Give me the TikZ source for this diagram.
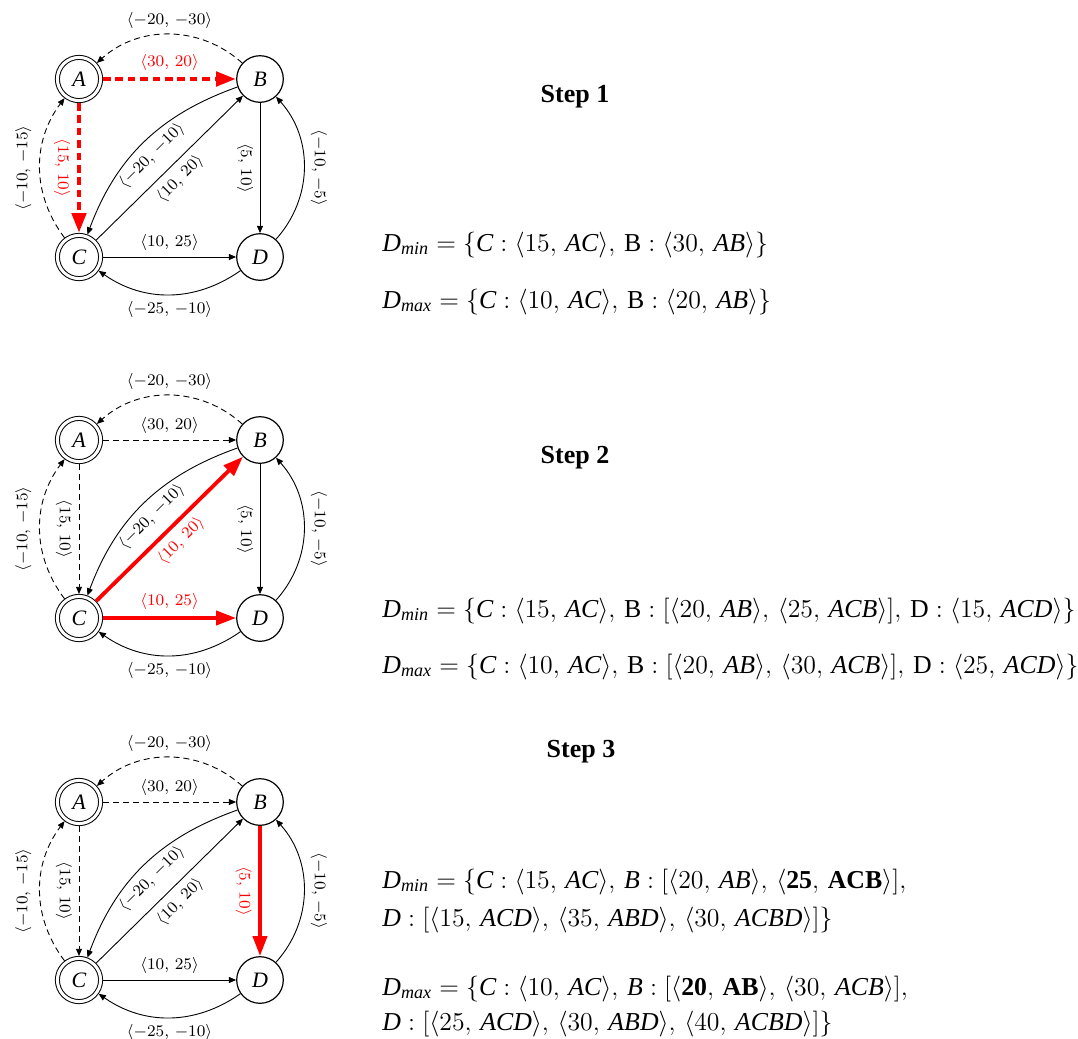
\documentclass[tikz,border=0pt]{standalone}
\usepackage{fix-cm}
\usepackage{amsmath}
\usepackage{fontspec}
\setmainfont{Liberation Serif}
\DeclareSymbolFont{operators}{TU}{\rmdefault}{m}{n}
\usetikzlibrary{arrows.meta}
\newcommand\I[1]{\textit{#1}}
\newcommand\Bf[1]{\textbf{#1}}
\newcommand\cs{,\,}
\tikzset{
  vtx/.style={circle,draw,line width=0.6pt,minimum size=23.3pt,inner sep=0pt,font=\fontsize{11}{13}\selectfont},
  vtxd/.style={circle,draw,line width=0.5pt,double=white,double distance=1.5pt,minimum size=21.6pt,inner sep=0pt,outer sep=1.2pt,font=\fontsize{11}{13}\selectfont},
  lab/.style={inner sep=3.2pt,font=\fontsize{8.1}{10}\selectfont},
  ed/.style={line width=0.45pt,-{Triangle[length=3.6pt,width=3pt]}},
  edd/.style={ed,dash pattern=on 3pt off 2pt},
  hl/.style={red,line width=1.9pt,-{Triangle[length=10pt,width=7pt]}},
  hld/.style={hl,line width=2.3pt,dash pattern=on 3.8pt off 2.4pt},
  eAB/.style={edd}, eAC/.style={edd}, eCB/.style={ed}, eCD/.style={ed}, eBD/.style={ed},
  lAB/.style={}, lAC/.style={}, lCB/.style={}, lCD/.style={}, lBD/.style={},
  eqn/.style={anchor=base west,inner sep=0pt,font=\fontsize{12.9}{16}\selectfont},
  ttl/.style={inner sep=0pt,font=\fontsize{13}{15}\selectfont\bfseries}
}
\newcommand\gr[1]{%
  \node[vtxd] (A#1) at (79,-79) {$\I{A}$};
  \node[vtx] (B#1) at (260,-79) {$\I{B}$};
  \node[vtxd] (C#1) at (79,-257) {$\I{C}$};
  \node[vtx] (D#1) at (260,-257) {$\I{D}$};
  \draw[edd] (B#1) to[bend right=42] node[lab,anchor=south,inner sep=2.8pt] {$\langle -20\cs -30\rangle$} (A#1);
  \draw[eAB] (A#1) -- node[lab,lAB,anchor=south] {$\langle 30\cs 20\rangle$} (B#1);
  \draw[eAC] (A#1) -- node[lab,lAC,rotate=-90,anchor=north] {$\langle 15\cs 10\rangle$} (C#1);
  \draw[edd] (C#1) to[bend left=37] node[lab,rotate=90,anchor=south,inner sep=4pt] {$\langle -10\cs -15\rangle$} (A#1);
  \draw[ed] (B#1) to[bend right=25] node[lab,rotate=45,anchor=north,pos=0.52] {$\langle -20\cs -10\rangle$} (C#1);
  \draw[eCB] (C#1) -- node[lab,lCB,rotate=45,anchor=north] {$\langle 10\cs 20\rangle$} (B#1);
  \draw[eBD] (B#1) -- node[lab,lBD,rotate=-90,anchor=north] {$\langle 5\cs 10\rangle$} (D#1);
  \draw[ed] (D#1) to[bend right=42] node[lab,rotate=-90,anchor=south] {$\langle -10\cs -5\rangle$} (B#1);
  \draw[eCD] (C#1) -- node[lab,lCD,anchor=south] {$\langle 10\cs 25\rangle$} (D#1);
  \draw[ed] (D#1) to[bend left=35] node[lab,anchor=north] {$\langle -25\cs -10\rangle$} (C#1);
}
\begin{document}
\begin{tikzpicture}[x=0.5pt,y=0.5pt]
\useasboundingbox (0,0) rectangle (1078,-1039);
% Step 1
\begin{scope}[eAB/.style={hld},eAC/.style={hld},lAB/.style={red},lAC/.style={red}]
  \gr{1}
\end{scope}
\node[ttl] (t1) at (575,-97) {Step 1};
\node[eqn] (m1) at (382,-251) {$\I{D}_{\I{min}} = \{\I{C} : \langle 15\cs \I{AC}\rangle\cs \mathrm{B} : \langle 30\cs \I{AB}\rangle\}$};
\node[eqn] (x1) at (382,-308) {$\I{D}_{\I{max}} = \{\I{C} : \langle 10\cs \I{AC}\rangle\cs \mathrm{B} : \langle 20\cs \I{AB}\rangle\}$};
% Step 2
\begin{scope}[shift={(0,-361)},eCB/.style={hl},eCD/.style={hl},lCB/.style={red},lCD/.style={red}]
  \gr{2}
\end{scope}
\node[ttl] (t2) at (575,-458) {Step 2};
\node[eqn] (m2) at (382,-617) {$\I{D}_{\I{min}} = \{\I{C} : \langle 15\cs \I{AC}\rangle\cs \mathrm{B} : [\langle 20\cs \I{AB}\rangle\cs \langle 25\cs \I{ACB}\rangle]\cs \mathrm{D} : \langle 15\cs \I{ACD}\rangle\}$};
\node[eqn] (x2) at (382,-673) {$\I{D}_{\I{max}} = \{\I{C} : \langle 10\cs \I{AC}\rangle\cs \mathrm{B} : [\langle 20\cs \I{AB}\rangle\cs \langle 30\cs \I{ACB}\rangle]\cs \mathrm{D} : \langle 25\cs \I{ACD}\rangle\}$};
% Step 3
\begin{scope}[shift={(0,-723)},eBD/.style={hl},lBD/.style={red}]
  \gr{3}
\end{scope}
\node[ttl] (t3) at (581,-752) {Step 3};
\node[eqn] (m3a) at (382,-888) {$\I{D}_{\I{min}} = \{\I{C} : \langle 15\cs \I{AC}\rangle\cs \I{B} : [\langle 20\cs \I{AB}\rangle\cs \langle \Bf{25}\cs \Bf{ACB}\rangle]\cs$};
\node[eqn] (m3b) at (382,-926) {$\I{D} : [\langle 15\cs \I{ACD}\rangle\cs \langle 35\cs \I{ABD}\rangle\cs \langle 30\cs \I{ACBD}\rangle]\}$};
\node[eqn] (x3a) at (382,-995) {$\I{D}_{\I{max}} = \{\I{C} : \langle 10\cs \I{AC}\rangle\cs \I{B} : [\langle \Bf{20}\cs \Bf{AB}\rangle\cs \langle 30\cs \I{ACB}\rangle]\cs$};
\node[eqn] (x3b) at (382,-1030) {$\I{D} : [\langle 25\cs \I{ACD}\rangle\cs \langle 30\cs \I{ABD}\rangle\cs \langle 40\cs \I{ACBD}\rangle]\}$};
\end{tikzpicture}
\end{document}
